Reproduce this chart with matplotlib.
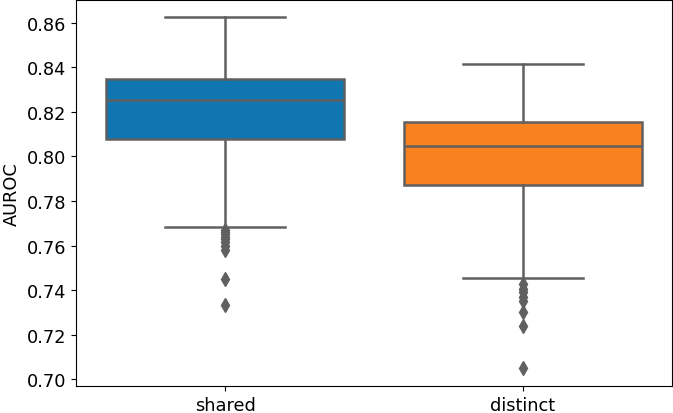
import matplotlib
matplotlib.use("Agg")
import matplotlib.pyplot as plt

categories = ["shared", "distinct"]
whisk_lo = [0.7683, 0.7454]
q1 = [0.8079, 0.7872]
med = [0.8254, 0.8047]
q3 = [0.8348, 0.8155]
whisk_hi = [0.8627, 0.8416]
fliers = [
    [0.7668, 0.7660, 0.7650, 0.7640, 0.7628, 0.7615, 0.7600, 0.7580, 0.7449, 0.7333],
    [0.7427, 0.7405, 0.7391, 0.7370, 0.7351, 0.7301, 0.7238, 0.7049],
]
colors = ["#0f76b1", "#f8821f"]
edge = "#606060"

stats = []
for i, c in enumerate(categories):
    stats.append(dict(label=c, whislo=whisk_lo[i], q1=q1[i], med=med[i],
                      q3=q3[i], whishi=whisk_hi[i], fliers=fliers[i]))

fig = plt.figure(figsize=(6.73, 4.14), dpi=100)
ax = fig.add_axes([76/673, 27/414, 596/673, 386/414])
lw = 1.8
bp = ax.bxp(stats, positions=range(len(categories)), widths=0.8,
            patch_artist=True,
            boxprops=dict(edgecolor=edge, linewidth=lw),
            medianprops=dict(color=edge, linewidth=lw),
            whiskerprops=dict(color=edge, linewidth=lw),
            capprops=dict(color=edge, linewidth=lw),
            flierprops=dict(marker="d", markerfacecolor=edge, markeredgecolor=edge,
                            markersize=7),
            capwidths=0.4)
for patch, col in zip(bp["boxes"], colors):
    patch.set_facecolor(col)
ax.set_xlim(-0.5, 1.5)
ax.set_ylim(0.6969, 0.8703)
ax.set_yticks([0.70, 0.72, 0.74, 0.76, 0.78, 0.80, 0.82, 0.84, 0.86])
ax.set_yticklabels(["0.70", "0.72", "0.74", "0.76", "0.78", "0.80", "0.82", "0.84", "0.86"])
ax.set_xticks([0, 1])
ax.set_xticklabels(categories)
ax.tick_params(labelsize=12.8)
ax.set_ylabel("AUROC", fontsize=12.8)
fig.savefig("out.png", dpi=100)
